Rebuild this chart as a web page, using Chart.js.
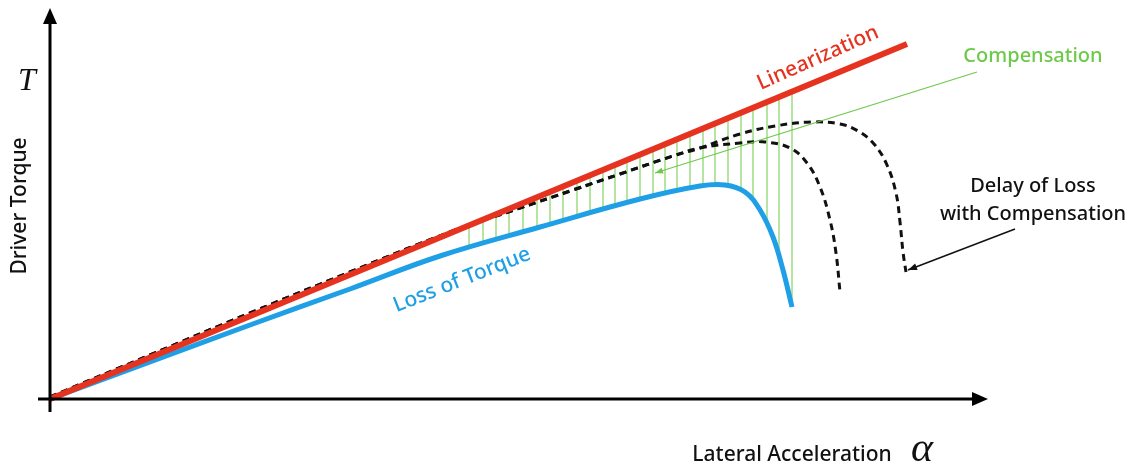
<!DOCTYPE html>
<html>
<head>
<meta charset="utf-8">
<script src="https://cdn.jsdelivr.net/npm/chart.js@4.4.0/dist/chart.umd.min.js"></script>
<style>
  body { margin: 0; background: #fff; }
  #wrap { width: 1134px; height: 468px; }
</style>
</head>
<body>
<div id="wrap"><canvas id="myChart"></canvas></div>
<script>
// Linearization (straight line from the origin)
var linX = [0, 8.57];
var linY = [0, 3.55];

// Loss of Torque (blue)
var lossX = [0, 1.0, 2.0, 3.0, 3.9, 4.9, 5.9, 6.5, 6.75, 6.95, 7.1, 7.23, 7.33, 7.42];
var lossY = [0, 0.37, 0.74, 1.1, 1.43, 1.72, 2.0, 2.13, 2.14, 2.07, 1.89, 1.62, 1.29, 0.92];

// Delay of Loss with Compensation (black dashed), shared start then two tails
var sharedX = [0, 1.0, 2.0, 3.0, 4.0, 4.7, 5.23, 5.7, 6.23, 6.5];
var sharedY = [0.02, 0.44, 0.86, 1.27, 1.67, 1.91, 2.09, 2.25, 2.43, 2.51];
var innerX = [6.9, 7.15, 7.4, 7.57, 7.7, 7.8, 7.86, 7.9];
var innerY = [2.56, 2.57, 2.51, 2.36, 2.12, 1.79, 1.46, 1.07];
var outerX = [6.9, 7.25, 7.62, 7.9, 8.08, 8.24, 8.37, 8.46, 8.5, 8.53, 8.56];
var outerY = [2.65, 2.73, 2.77, 2.75, 2.68, 2.55, 2.34, 2.06, 1.77, 1.47, 1.27];

// Compensation hatching (green verticals between the two curves)
var hatchX = [4.19, 4.33, 4.46, 4.59, 4.73, 4.87, 5.0, 5.13, 5.27, 5.4, 5.53, 5.65, 5.77,
              5.9, 6.03, 6.15, 6.27, 6.4, 6.53, 6.65, 6.78, 6.91, 7.03, 7.17, 7.29, 7.42];
var hatchTop = [1.74, 1.79, 1.85, 1.9, 1.96, 2.02, 2.07, 2.12, 2.18, 2.24, 2.29, 2.34, 2.39,
                2.44, 2.5, 2.55, 2.6, 2.65, 2.7, 2.75, 2.81, 2.86, 2.91, 2.97, 3.02, 3.07];
var hatchBottom = [1.51, 1.55, 1.59, 1.63, 1.67, 1.71, 1.74, 1.78, 1.82, 1.85, 1.89, 1.92, 1.95,
                   2.0, 2.03, 2.06, 2.09, 2.11, 2.13, 2.14, 2.14, 2.1, 1.99, 1.77, 1.47, 0.92];

// pointer arrows [fromX, fromY, toX, toY]
var compArrow = [9.27, 3.27, 6.05, 2.26];
var delayArrow = [9.65, 1.70, 8.58, 1.29];

function pts(xs, ys) {
  return xs.map(function (x, i) { return { x: x, y: ys[i] }; });
}

var hatchData = [];
hatchX.forEach(function (x, i) {
  hatchData.push({ x: x, y: hatchTop[i] });
  hatchData.push({ x: x, y: hatchBottom[i] });
  hatchData.push({ x: x, y: null });
});

var RED = "#e6331f";
var BLUE = "#1e9fe6";
var GREEN = "#6cc94a";

function arrowHead(c, x1, y1, x2, y2, len, wid) {
  var a = Math.atan2(y2 - y1, x2 - x1);
  c.beginPath();
  c.moveTo(x2, y2);
  c.lineTo(x2 - len * Math.cos(a) + wid * Math.sin(a), y2 - len * Math.sin(a) - wid * Math.cos(a));
  c.lineTo(x2 - len * Math.cos(a) - wid * Math.sin(a), y2 - len * Math.sin(a) + wid * Math.cos(a));
  c.closePath();
  c.fill();
}

var decorPlugin = {
  id: "decor",
  afterDraw: function (chart) {
    var c = chart.ctx;
    var sx = chart.scales.x, sy = chart.scales.y;
    var X = function (v) { return sx.getPixelForValue(v); };
    var Y = function (v) { return sy.getPixelForValue(v); };
    c.save();

    // axes
    c.strokeStyle = "#000";
    c.fillStyle = "#000";
    c.lineWidth = 3;
    c.beginPath();
    c.moveTo(X(0), Y(-0.13));
    c.lineTo(X(0), Y(3.78));
    c.moveTo(X(-0.12), Y(0));
    c.lineTo(X(9.25), Y(0));
    c.stroke();
    arrowHead(c, X(0), Y(0), X(0), Y(3.91), 16, 7);
    arrowHead(c, X(0), Y(0), X(9.38), Y(0), 16, 7);

    // compensation pointer
    c.strokeStyle = GREEN;
    c.fillStyle = GREEN;
    c.lineWidth = 1.2;
    c.beginPath();
    c.moveTo(X(compArrow[0]), Y(compArrow[1]));
    c.lineTo(X(compArrow[2]), Y(compArrow[3]));
    c.stroke();
    arrowHead(c, X(compArrow[0]), Y(compArrow[1]), X(compArrow[2]), Y(compArrow[3]), 8, 3);

    // delay pointer
    c.strokeStyle = "#111";
    c.fillStyle = "#111";
    c.lineWidth = 1.5;
    c.beginPath();
    c.moveTo(X(delayArrow[0]), Y(delayArrow[1]));
    c.lineTo(X(delayArrow[2]), Y(delayArrow[3]));
    c.stroke();
    arrowHead(c, X(delayArrow[0]), Y(delayArrow[1]), X(delayArrow[2]), Y(delayArrow[3]), 9, 3.5);

    // labels
    c.textAlign = "center";
    c.textBaseline = "middle";
    var sans = "'Noto Sans', sans-serif";

    c.fillStyle = RED;
    c.font = "500 21px " + sans;
    c.save();
    c.translate(818, 58);
    c.rotate(-24 * Math.PI / 180);
    c.fillText("Linearization", 0, 0);
    c.restore();

    c.fillStyle = BLUE;
    c.save();
    c.translate(462, 280);
    c.rotate(-21.5 * Math.PI / 180);
    c.fillText("Loss of Torque", 0, 0);
    c.restore();

    c.fillStyle = GREEN;
    c.font = "500 20px " + sans;
    c.fillText("Compensation", 1033, 56);

    c.fillStyle = "#111";
    c.fillText("Delay of Loss", 1033, 186);
    c.fillText("with Compensation", 1033, 214);

    c.font = "500 21px " + sans;
    c.fillText("Lateral Acceleration", 792, 455);

    c.save();
    c.translate(20, 206);
    c.rotate(-Math.PI / 2);
    c.fillText("Driver Torque", 0, 0);
    c.restore();

    c.font = "italic 32px 'Liberation Serif', serif";
    c.fillText("T", 27, 82);
    c.font = "italic 42px 'Liberation Serif', serif";
    c.fillText("\u03b1", 922, 450);

    c.restore();
  }
};

var ctx = document.getElementById("myChart").getContext("2d");

var myChart = new Chart(ctx, {
  type: "line",
  data: {
    datasets: [
      {
        label: "Linearization",
        data: pts(linX, linY),
        borderColor: RED,
        borderWidth: 6,
        order: 1
      },
      {
        label: "Delay (outer)",
        data: pts(sharedX.concat(outerX), sharedY.concat(outerY)),
        borderColor: "#111",
        borderWidth: 3,
        borderDash: [7, 5],
        tension: 0.4,
        order: 2
      },
      {
        label: "Delay (inner)",
        data: pts(sharedX.concat(innerX), sharedY.concat(innerY)),
        borderColor: "#111",
        borderWidth: 3,
        borderDash: [7, 5],
        tension: 0.4,
        order: 3
      },
      {
        label: "Loss of Torque",
        data: pts(lossX, lossY),
        borderColor: BLUE,
        borderWidth: 5,
        tension: 0.4,
        order: 4
      },
      {
        label: "Compensation",
        data: hatchData,
        borderColor: "#8fd870",
        borderWidth: 1.3,
        spanGaps: false,
        order: 5
      }
    ]
  },
  options: {
    responsive: true,
    maintainAspectRatio: false,
    animation: false,
    layout: { padding: 0 },
    elements: { point: { radius: 0 }, line: { borderCapStyle: "butt" } },
    plugins: { legend: { display: false }, tooltip: { enabled: false } },
    scales: {
      x: { type: "linear", min: -0.5, max: 10.84, display: false },
      y: { type: "linear", min: -0.69, max: 3.99, display: false }
    }
  },
  plugins: [decorPlugin]
});
</script>
</body>
</html>
